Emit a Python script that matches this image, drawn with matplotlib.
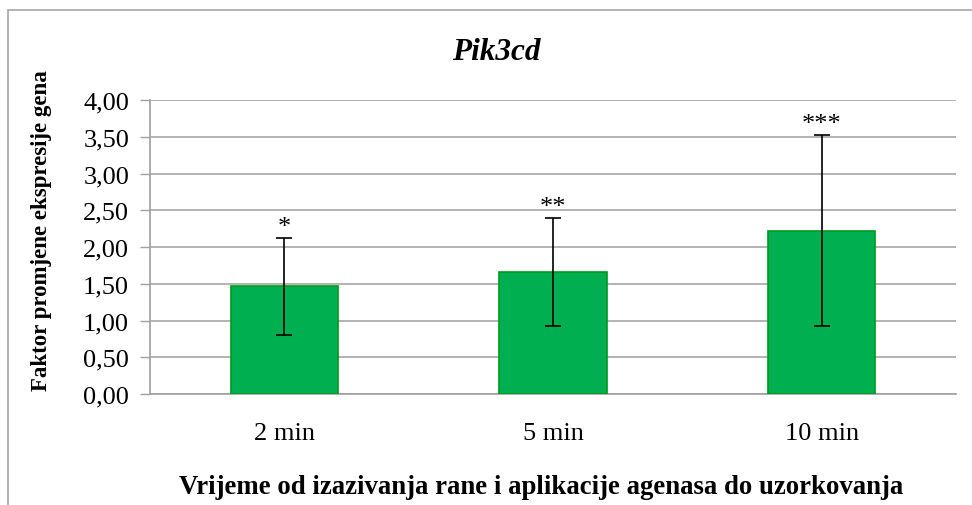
import matplotlib
matplotlib.use("Agg")
import matplotlib.pyplot as plt
from matplotlib.patches import Rectangle

categories = ["2 min", "5 min", "10 min"]
values = [1.465, 1.66, 2.22]
errors = [0.66, 0.73, 1.30]
stars = ["*", "**", "***"]
yticks = [0.0, 0.5, 1.0, 1.5, 2.0, 2.5, 3.0, 3.5, 4.0]
ytick_labels = ["0,00", "0,50", "1,00", "1,50", "2,00", "2,50", "3,00", "3,50", "4,00"]

plt.rcParams['font.family'] = ['Liberation Serif', 'DejaVu Serif']

W, H = 972, 506
fig = plt.figure(figsize=(W / 100, H / 100), dpi=100)
fig.patch.set_facecolor("white")

# outer chart border
fig.add_artist(Rectangle((8 / W, -0.05), 1.2, (H - 11) / H + 0.05, transform=fig.transFigure,
                         fill=False, edgecolor="#a6a6a6", linewidth=1.2))

left, right, top, bottom = 150, 956, 101, 395
ax = fig.add_axes([left / W, 1 - bottom / H, (right - left) / W, (bottom - top) / H])

x = list(range(len(categories)))
ax.bar(x, values, width=0.4, color="#00b050", edgecolor="#009a1e", linewidth=1.2, zorder=3)
ax.errorbar(x, values, yerr=errors, fmt="none", ecolor="black", elinewidth=1.2,
            capsize=6, capthick=1.2, zorder=4)
for xi, v, e, s in zip(x, values, errors, stars):
    ax.text(xi, v + e + 0.0, s, ha="center", va="bottom", fontsize=19)

ax.set_xlim(-0.5, len(categories) - 0.5)
ax.set_ylim(0, 4.0)
ax.set_yticks(yticks)
ax.set_yticklabels(ytick_labels, fontsize=19)
ax.set_xticks(x)
ax.set_xticklabels(categories, fontsize=19)
ax.tick_params(axis="x", length=0, pad=20)
ax.tick_params(axis="y", length=7, width=1, color="#a0a0a0", pad=8)
ax.yaxis.grid(True, color="#a6a6a6", linewidth=1.2, zorder=0)
ax.set_axisbelow(True)
for s in ["top", "right"]:
    ax.spines[s].set_visible(False)
ax.spines["left"].set_color("#a0a0a0")
ax.spines["bottom"].set_color("#a0a0a0")
ax.spines["left"].set_linewidth(1.2)
ax.spines["bottom"].set_linewidth(1.2)

fig.text(496 / W, 1 - 52 / H, "Pik3cd", ha="center", va="center",
         fontsize=22.5, style="italic", fontweight="bold")
fig.text(541 / W, 1 - 488 / H,
         "Vrijeme od izazivanja rane i aplikacije agenasa do uzorkovanja",
         ha="center", va="center", fontsize=19.3, fontweight="bold")
fig.text(42 / W, 1 - 231 / H, "Faktor promjene ekspresije gena", ha="center", va="center",
         rotation=90, fontsize=16.5, fontweight="bold")

fig.savefig("out.png", dpi=100)
